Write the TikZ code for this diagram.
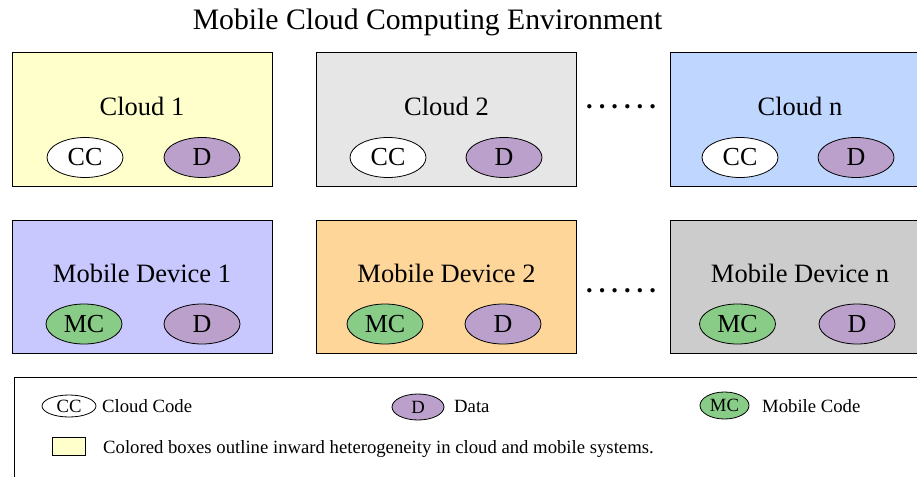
\documentclass[tikz,border=0pt]{standalone}
\usepackage{fontspec}
\setmainfont{Liberation Serif}
\newfontfamily\timesfont{Liberation Serif}
\usetikzlibrary{shapes.geometric}

\definecolor{cloudyellow}{RGB}{255,255,204}
\definecolor{cloudgray}{RGB}{230,230,230}
\definecolor{cloudblue}{RGB}{191,215,255}
\definecolor{mobilelavender}{RGB}{200,200,255}
\definecolor{mobileorange}{RGB}{255,214,153}
\definecolor{mobilegray}{RGB}{204,204,204}
\definecolor{datapurple}{RGB}{187,160,204}
\definecolor{codegreen}{RGB}{136,204,136}

\newcommand{\gapdots}{\bfseries.\hspace{6pt}.\hspace{6pt}.\hspace{6pt}.\hspace{6pt}.\hspace{6pt}.}

\begin{document}
\begin{tikzpicture}[
		x=1pt, y=-1pt,
		every node/.style={inner sep=0pt, font=\timesfont\fontsize{26.5}{30}\selectfont},
		unit/.style={rectangle, draw, minimum width=260pt, minimum height=133pt, line width=1pt},
		part/.style={ellipse, draw, minimum width=76pt, minimum height=40pt, line width=0.8pt, font=\timesfont\fontsize{26}{30}\selectfont},
		key/.style={ellipse, draw, minimum width=52pt, minimum height=25pt, line width=0.8pt, font=\timesfont\fontsize{18.7}{20}\selectfont},
		keytext/.style={anchor=base west, font=\timesfont\fontsize{18.7}{20}\selectfont}
	]
  \clip (0,0) rectangle (917,476);
  \node (title) [anchor=base, font=\timesfont\fontsize{29.7}{32}\selectfont] at (427.5,29.5) {Mobile Cloud Computing Environment};
  % clouds
  \node (cloud_1) [unit, fill=cloudyellow] at (142,119.5) {};
  \node (cloud_2) [unit, fill=cloudgray] at (446.5,119.5) {};
  \node (cloud_n) [unit, fill=cloudblue] at (800,119.5) {};
  \node (cloud_1_label) [anchor=base] at (142,115) {Cloud 1};
  \node (cloud_2_label) [anchor=base] at (446.5,115) {Cloud 2};
  \node (cloud_n_label) [anchor=base] at (800,115) {Cloud n};
  \node (cc_1) [part, fill=white] at (85,157.5) {CC};
  \node (d_c1) [part, fill=datapurple] at (202,157.5) {D};
  \node (cc_2) [part, fill=white] at (388,157.5) {CC};
  \node (d_c2) [part, fill=datapurple] at (504,157.5) {D};
  \node (cc_n) [part, fill=white] at (740,157.5) {CC};
  \node (d_cn) [part, fill=datapurple] at (856,157.5) {D};
  \node (cloud_dots) [anchor=base west] at (586,109) {\gapdots};
  % mobile devices
  \node (mobile_1) [unit, fill=mobilelavender] at (142,286.75) {};
  \node (mobile_2) [unit, fill=mobileorange] at (446.5,286.75) {};
  \node (mobile_n) [unit, fill=mobilegray] at (800,286.75) {};
  \node (mobile_1_label) [anchor=base] at (142,282.5) {Mobile Device 1};
  \node (mobile_2_label) [anchor=base] at (446.5,282.5) {Mobile Device 2};
  \node (mobile_n_label) [anchor=base] at (800,282.5) {Mobile Device n};
  \node (mc_1) [part, fill=codegreen] at (84,324) {MC};
  \node (d_m1) [part, fill=datapurple] at (202,324) {D};
  \node (mc_2) [part, fill=codegreen] at (385,324) {MC};
  \node (d_m2) [part, fill=datapurple] at (503,324) {D};
  \node (mc_n) [part, fill=codegreen] at (737.5,324) {MC};
  \node (d_mn) [part, fill=datapurple] at (857,324) {D};
  \node (mobile_dots) [anchor=base west] at (586,292.5) {\gapdots};
  % legend
  \node (legend) [rectangle, draw, line width=1pt, minimum width=930pt, minimum height=130pt, anchor=north west] at (14,377) {};
  \node (key_cc) [key, fill=white, minimum width=54pt, minimum height=22pt] at (69,406) {CC};
  \node (key_cc_text) [keytext] at (102,412.5) {Cloud Code};
  \node (key_d) [key, fill=datapurple, minimum height=26pt] at (418,407) {D};
  \node (key_d_text) [keytext] at (454,412.5) {Data};
  \node (key_mc) [key, fill=codegreen, minimum width=49pt, minimum height=27pt] at (724.5,405.5) {MC};
  \node (key_mc_text) [keytext] at (762,412.5) {Mobile Code};
  \node (key_box) [rectangle, draw, line width=0.8pt, fill=cloudyellow, minimum width=33pt, minimum height=18pt] at (68.5,446) {};
  \node (key_box_text) [keytext] at (103,453) {Colored boxes outline inward heterogeneity in cloud and mobile systems.};
\end{tikzpicture}
\end{document}
